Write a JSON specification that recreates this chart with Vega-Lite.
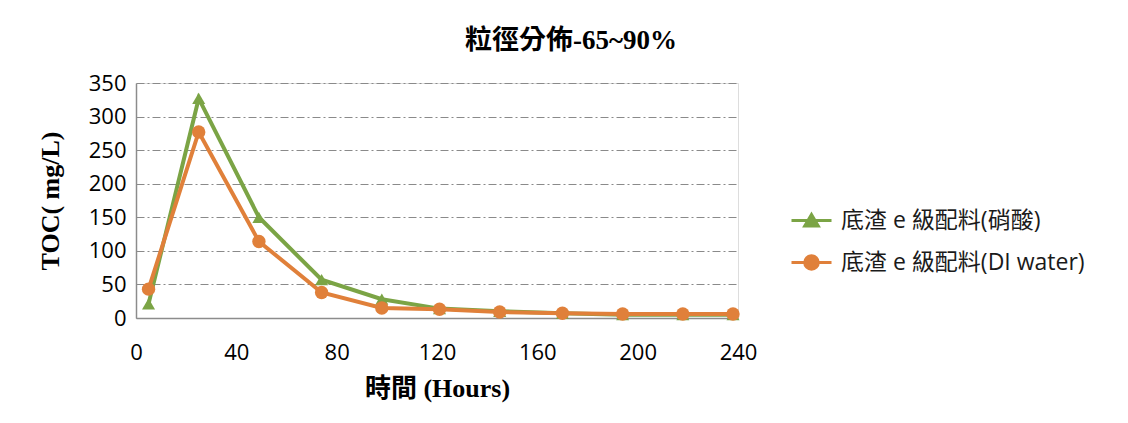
{
  "$schema": "https://vega.github.io/schema/vega-lite/v6.json",
  "width": 602,
  "height": 235,
  "autosize": "none",
  "padding": {"left": 136, "top": 83, "right": 390, "bottom": 105},
  "background": "white",
  "title": {
    "text": "粒徑分佈-65~90%",
    "font": "Liberation Serif, Noto Sans CJK TC",
    "fontSize": 27,
    "fontWeight": "bold",
    "color": "#000000",
    "anchor": "middle",
    "baseline": "alphabetic",
    "offset": -4,
    "dx": 134
  },
  "data": {
    "values": [
      {"series": "底渣 e 級配料(硝酸)", "hours": 5, "toc": 21},
      {"series": "底渣 e 級配料(硝酸)", "hours": 25, "toc": 327},
      {"series": "底渣 e 級配料(硝酸)", "hours": 49, "toc": 150},
      {"series": "底渣 e 級配料(硝酸)", "hours": 74, "toc": 57},
      {"series": "底渣 e 級配料(硝酸)", "hours": 98, "toc": 28},
      {"series": "底渣 e 級配料(硝酸)", "hours": 121, "toc": 14},
      {"series": "底渣 e 級配料(硝酸)", "hours": 145, "toc": 10},
      {"series": "底渣 e 級配料(硝酸)", "hours": 170, "toc": 7},
      {"series": "底渣 e 級配料(硝酸)", "hours": 194, "toc": 5},
      {"series": "底渣 e 級配料(硝酸)", "hours": 218, "toc": 5},
      {"series": "底渣 e 級配料(硝酸)", "hours": 238, "toc": 5},
      {"series": "底渣 e 級配料(DI water)", "hours": 5, "toc": 43},
      {"series": "底渣 e 級配料(DI water)", "hours": 25, "toc": 277},
      {"series": "底渣 e 級配料(DI water)", "hours": 49, "toc": 114},
      {"series": "底渣 e 級配料(DI water)", "hours": 74, "toc": 38},
      {"series": "底渣 e 級配料(DI water)", "hours": 98, "toc": 15},
      {"series": "底渣 e 級配料(DI water)", "hours": 121, "toc": 13},
      {"series": "底渣 e 級配料(DI water)", "hours": 145, "toc": 9},
      {"series": "底渣 e 級配料(DI water)", "hours": 170, "toc": 7},
      {"series": "底渣 e 級配料(DI water)", "hours": 194, "toc": 6},
      {"series": "底渣 e 級配料(DI water)", "hours": 218, "toc": 6},
      {"series": "底渣 e 級配料(DI water)", "hours": 238, "toc": 6}
    ]
  },
  "encoding": {
    "x": {
      "field": "hours",
      "type": "quantitative",
      "scale": {"domain": [0, 240], "nice": false, "zero": true},
      "axis": {
        "values": [0, 40, 80, 120, 160, 200, 240],
        "grid": false,
        "ticks": false,
        "domainColor": "#8c8c8c",
        "domainWidth": 1.5,
        "labelFont": "Open Sans",
        "labelFontSize": 22,
        "labelColor": "#000000",
        "labelPadding": 24,
        "labelFlush": false,
        "title": "時間 (Hours)",
        "titleFont": "Liberation Serif, Noto Sans CJK TC",
        "titleFontSize": 26,
        "titleFontWeight": "bold",
        "titleColor": "#000000",
        "titleBaseline": "alphabetic",
        "titleY": 78
      }
    },
    "y": {
      "field": "toc",
      "type": "quantitative",
      "scale": {"domain": [0, 350], "nice": false},
      "axis": {
        "values": [0, 50, 100, 150, 200, 250, 300, 350],
        "grid": true,
        "gridColor": "#8a8a8a",
        "gridDash": [8, 3, 2, 3],
        "gridWidth": 1,
        "ticks": false,
        "domainColor": "#8c8c8c",
        "domainWidth": 1.5,
        "labelFont": "Open Sans",
        "labelFontSize": 22,
        "labelColor": "#000000",
        "labelPadding": 10,
        "title": "TOC( mg/L)",
        "titleFont": "Liberation Serif, Noto Sans CJK TC",
        "titleFontSize": 26,
        "titleFontWeight": "bold",
        "titleColor": "#000000",
        "titleBaseline": "alphabetic",
        "titleX": -78
      }
    },
    "color": {
      "field": "series",
      "type": "nominal",
      "scale": {
        "domain": ["底渣 e 級配料(硝酸)", "底渣 e 級配料(DI water)"],
        "range": ["#7BA445", "#E0803A"]
      },
      "legend": {
        "orient": "none",
        "legendX": 654,
        "legendY": 116,
        "title": null,
        "padding": 0,
        "symbolSize": 1600,
        "symbolStrokeWidth": 3,
        "symbolOpacity": 1,
        "labelFont": "Open Sans, Noto Sans CJK TC",
        "labelFontSize": 23,
        "labelColor": "#1a1a1a",
        "labelLimit": 400,
        "labelOffset": 8,
        "rowPadding": 8,
        "encode": {
          "symbols": {
            "update": {
              "shape": {"signal": "datum.value === '底渣 e 級配料(硝酸)' ? 'M-1,0L1,0M0,-0.3L0.34,0.28L-0.34,0.28Z' : 'M-1,0L1,0M-0.34,0A0.34,0.34,0,1,0,0.34,0A0.34,0.34,0,1,0,-0.34,0Z'"},
              "stroke": {"signal": "datum.value === '底渣 e 級配料(硝酸)' ? '#7BA445' : '#E0803A'"},
              "fill": {"signal": "datum.value === '底渣 e 級配料(硝酸)' ? '#7BA445' : '#E0803A'"},
              "strokeWidth": {"value": 3},
              "opacity": {"value": 1}
            }
          }
        }
      }
    }
  },
  "layer": [
    {
      "mark": {"type": "line", "strokeWidth": 4}
    },
    {
      "transform": [{"filter": "datum.series === '底渣 e 級配料(硝酸)'"}],
      "mark": {"type": "point", "shape": "triangle-up", "filled": true, "opacity": 1, "size": 170}
    },
    {
      "transform": [{"filter": "datum.series === '底渣 e 級配料(DI water)'"}],
      "mark": {"type": "point", "shape": "circle", "filled": true, "opacity": 1, "size": 180}
    }
  ]
}
